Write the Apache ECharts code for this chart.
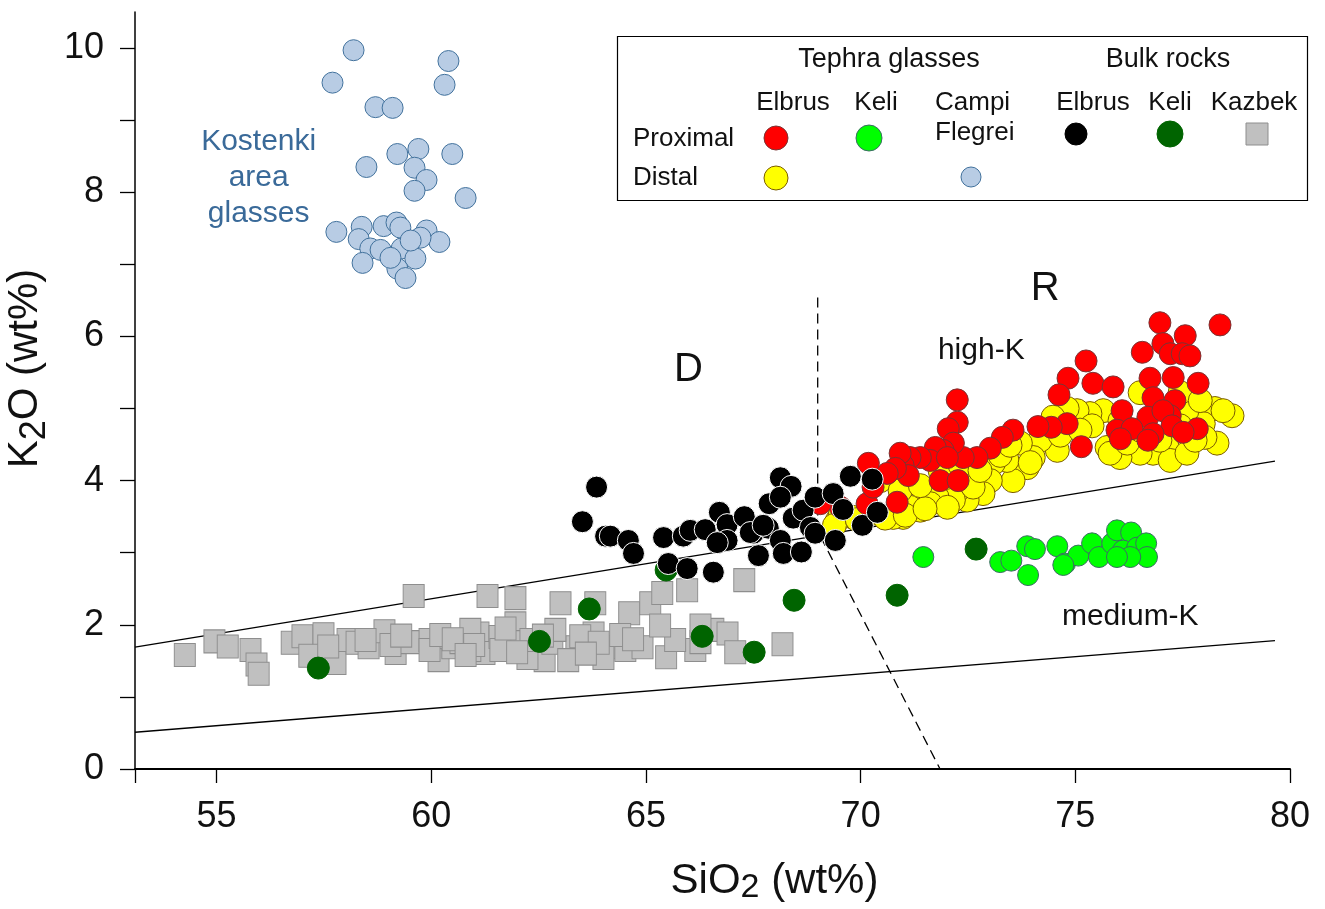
<!doctype html>
<meta charset="utf-8">
<style>
  html, body { margin: 0; padding: 0; width: 100%; height: 100%; background: #fff; }
  #chart { width: 1325px; height: 909px; }
</style>
<script src="https://cdn.jsdelivr.net/npm/echarts@6/dist/echarts.min.js"></script>

<div id="chart"></div>

<script>
  const FONT = '"Liberation Sans", Arial, sans-serif';

  // Campi Flegrei distal glasses (Kostenki area)
  const kostenki = [
    [58.19, 9.97], [57.70, 9.52], [60.40, 9.82], [60.31, 9.49], [58.70, 9.18], [59.10, 9.17],
    [58.49, 8.35], [59.21, 8.53], [59.70, 8.60], [60.49, 8.53], [59.61, 8.34], [59.89, 8.17],
    [59.61, 8.02], [60.80, 7.92], [57.79, 7.45], [58.38, 7.52], [58.31, 7.35], [58.89, 7.53],
    [59.19, 7.58], [59.28, 7.51], [58.58, 7.22], [58.82, 7.20], [58.40, 7.02], [59.31, 7.22],
    [59.63, 7.08], [59.21, 6.94], [59.40, 6.81], [59.89, 7.47], [60.19, 7.31], [59.75, 7.37],
    [59.52, 7.33], [59.05, 7.09]
  ];

  // Kazbek bulk rocks
  const kazbek = [
    [54.26, 1.58], [54.95, 1.77], [55.26, 1.70], [55.79, 1.65], [55.93, 1.45], [55.98, 1.32],
    [56.75, 1.75], [57.00, 1.84], [57.49, 1.87], [57.16, 1.57], [57.77, 1.47], [58.05, 1.79],
    [58.26, 1.75], [58.54, 1.69], [58.91, 1.91], [59.17, 1.61], [59.59, 2.40], [59.52, 1.76],
    [59.96, 1.79], [60.17, 1.51], [60.49, 1.69], [60.68, 1.76], [61.10, 1.88], [61.31, 2.40],
    [61.24, 1.61], [61.59, 1.83], [61.96, 2.37], [61.96, 2.02], [62.05, 1.76], [62.64, 1.51],
    [63.01, 2.30], [62.82, 1.75], [63.38, 1.69], [63.82, 2.30], [63.78, 1.88], [64.15, 1.69],
    [64.52, 1.65], [64.61, 2.16], [65.10, 2.30], [65.38, 2.44], [65.96, 2.48], [66.57, 1.93],
    [66.90, 1.88], [67.08, 1.62], [67.29, 2.62], [68.18, 1.73], [65.47, 1.55], [66.15, 1.65],
    [64.01, 1.54], [64.92, 1.69], [63.19, 1.51], [62.24, 1.54], [60.91, 1.65], [59.96, 1.65],
    [60.21, 1.86], [61.61, 1.65], [62.31, 1.79], [63.47, 1.84], [64.40, 1.86], [65.68, 1.79],
    [66.27, 1.76], [59.05, 1.72], [58.47, 1.79], [60.91, 1.93], [62.89, 1.93], [61.73, 1.95],
    [66.27, 1.99], [65.33, 1.99], [60.50, 1.80], [61.00, 1.72], [62.60, 1.85], [63.90, 1.75],
    [64.70, 1.80], [59.30, 1.85], [57.60, 1.70], [60.80, 1.58], [62.00, 1.62], [63.60, 1.60]
  ];

  // Keli bulk rocks
  const keliBulk = [
    [57.37, 1.40], [62.52, 1.77], [63.68, 2.22], [65.47, 2.76], [66.31, 1.84], [67.52, 1.62],
    [68.45, 2.34], [70.85, 2.41], [72.69, 3.05]
  ];

  // Elbrus distal glasses
  const elbrusDistal = [
    [78.65, 4.90], [78.25, 5.00], [77.98, 4.79], [78.30, 4.52], [78.02, 4.60], [77.60, 4.97],
    [77.44, 5.22], [76.51, 5.22], [77.14, 4.46], [76.81, 4.38], [77.21, 4.28], [77.60, 4.38],
    [76.51, 4.38], [76.04, 4.32], [75.74, 4.46], [75.65, 4.97], [75.34, 4.93], [75.04, 4.97],
    [74.81, 5.00], [75.39, 4.76], [74.48, 4.88], [74.58, 4.42], [74.18, 4.56], [74.02, 4.32],
    [73.72, 4.52], [73.88, 4.18], [73.55, 4.00], [73.41, 4.28], [73.09, 4.24], [73.02, 4.00],
    [72.85, 3.82], [72.48, 3.73], [72.48, 4.00], [72.25, 3.86], [72.62, 3.91], [72.16, 3.73],
    [71.78, 3.77], [71.62, 3.68], [71.39, 3.59], [71.15, 3.63], [70.99, 3.49], [70.76, 3.49],
    [72.02, 3.63], [70.29, 3.55], [69.83, 3.49], [69.46, 3.45], [69.53, 3.55], [75.81, 4.38],
    [76.21, 4.52], [76.97, 4.56], [77.91, 5.11], [78.44, 4.97], [73.95, 4.25], [69.39, 3.38],
    [69.92, 3.46], [70.57, 3.48], [71.04, 3.52], [71.50, 3.61], [70.46, 4.00], [70.92, 3.86],
    [71.39, 3.93], [71.85, 4.14], [72.32, 4.21], [72.78, 4.14], [73.25, 4.35], [73.48, 4.49],
    [74.65, 4.63], [75.11, 4.70], [76.04, 4.83], [76.51, 4.70], [77.44, 4.76], [77.79, 4.56]
  ];

  // Elbrus proximal glasses
  const elbrusProx = [
    [76.97, 6.19], [78.37, 6.16], [77.56, 6.01], [76.56, 5.78], [77.04, 5.90], [77.21, 5.76],
    [77.49, 5.76], [77.67, 5.73], [75.25, 5.66], [74.83, 5.42], [75.41, 5.35], [75.88, 5.30],
    [74.62, 5.19], [76.74, 5.42], [77.28, 5.43], [77.86, 5.35], [76.81, 5.15], [77.32, 5.11],
    [72.25, 5.12], [72.25, 4.81], [72.04, 4.72], [76.09, 4.97], [76.69, 4.88], [77.21, 4.90],
    [77.04, 4.97], [77.25, 4.76], [75.97, 4.70], [76.32, 4.72], [76.81, 4.65], [77.84, 4.72],
    [77.51, 4.67], [76.69, 4.56], [76.05, 4.58], [75.14, 4.47], [74.81, 4.79], [74.44, 4.74],
    [74.13, 4.75], [73.55, 4.70], [73.30, 4.60], [73.02, 4.45], [72.71, 4.32], [72.39, 4.32],
    [72.16, 4.52], [71.92, 4.42], [71.74, 4.46], [71.62, 4.28], [71.39, 4.32], [71.15, 4.32],
    [70.99, 4.21], [70.92, 4.38], [71.11, 4.07], [70.81, 4.17], [70.62, 4.10], [70.18, 4.24],
    [70.85, 3.70], [71.85, 4.00], [72.27, 4.00], [72.02, 4.32], [70.15, 3.68], [69.53, 3.63],
    [70.29, 3.91], [69.06, 3.68]
  ];

  // Elbrus bulk rocks
  const elbrusBulk = [
    [63.85, 3.91], [63.52, 3.43], [64.06, 3.23], [64.17, 3.23], [64.59, 3.17], [64.71, 2.99],
    [65.41, 3.21], [65.87, 3.23], [66.03, 3.31], [66.38, 3.32], [66.71, 3.56], [66.89, 3.39],
    [66.89, 3.17], [66.66, 3.14], [67.29, 3.50], [67.50, 3.27], [67.85, 3.34], [67.87, 3.68],
    [68.13, 4.04], [68.38, 3.92], [68.13, 3.77], [68.43, 3.48], [68.66, 3.59], [68.83, 3.35],
    [68.94, 3.27], [68.13, 3.17], [68.20, 2.99], [68.62, 3.01], [67.62, 2.96], [65.52, 2.85],
    [65.96, 2.78], [66.57, 2.73], [68.94, 3.77], [69.36, 3.82], [69.76, 4.06], [70.27, 4.02],
    [69.59, 3.60], [70.04, 3.38], [70.39, 3.56], [69.41, 3.17], [67.43, 3.28], [67.73, 3.38]
  ];

  // Keli proximal glasses
  const keliGlass = [
    [71.46, 2.94], [73.25, 2.87], [73.51, 2.89], [73.88, 3.09], [74.06, 3.05], [73.90, 2.69],
    [74.58, 3.09], [74.76, 2.85], [75.07, 2.96], [75.39, 3.13], [75.55, 2.94], [75.86, 3.13],
    [75.97, 3.31], [76.30, 3.28], [76.11, 3.03], [76.44, 3.07], [76.65, 3.13], [76.67, 2.94],
    [76.28, 2.94], [75.97, 2.94], [74.72, 2.83]
  ];

  // classification lines
  const highKLine = [[53.1, 1.69], [79.65, 4.27]];
  const mediumKLine = [[53.1, 0.51], [79.65, 1.78]];
  const drLine = [[69, 6.54], [69, 3.3], [71.85, 0]];

  // field labels: [x, y, text]
  const fieldNotes = [[65.99, 5.53, 'D'], [74.30, 6.66, 'R']];
  const seriesNotes = [[72.81, 5.80, 'high-K'], [76.28, 2.11, 'medium-K']];
  const kostenkiNote = [[55.98, 8.20, 'Kostenki\narea\nglasses']];

  const xLabels = [55, 60, 65, 70, 75, 80];
  const xTicks = [53.1, 55, 60, 65, 70, 75, 80];
  const yLabels = [0, 2, 4, 6, 8, 10];
  const yTicks = [0, 1, 2, 3, 4, 5, 6, 7, 8, 9, 10];

  function dots(data, size, color, border, z, symbol) {
    return {
      type: 'scatter', data: data, z: z, symbol: symbol || 'circle', symbolSize: size,
      itemStyle: { color: color, borderColor: border, borderWidth: 1, opacity: 1 },
      silent: true
    };
  }
  function line(data, dashed) {
    return {
      type: 'line', data: data, z: 1, symbol: 'none', silent: true,
      lineStyle: { color: '#000', width: 1.3, type: dashed ? [10, 6] : 'solid' }
    };
  }
  function notes(data, size, color, lh) {
    return {
      type: 'scatter', data: data, z: 10, symbolSize: 0, silent: true,
      itemStyle: { opacity: 1 },
      label: {
        show: true, position: 'inside', formatter: p => p.value[2],
        fontFamily: FONT, fontSize: size, color: color, lineHeight: lh || size, align: 'center'
      }
    };
  }

  let chart = echarts.init(document.getElementById('chart'));

  const lg = (text, x, y, align, size) => ({
    type: 'text', x: x, y: y, z: 100,
    style: { text: text, fontFamily: FONT, fontSize: size || 26, fill: '#111',
             align: align || 'center', verticalAlign: 'middle' }
  });
  const lgDot = (x, y, r, fill, stroke) => ({
    type: 'circle', z: 100, shape: { cx: x, cy: y, r: r },
    style: { fill: fill, stroke: stroke || fill, lineWidth: 1 }
  });

  chart.setOption({
    animation: false,
    grid: { left: 135, right: 35, top: 12, bottom: 140, containLabel: false, outerBoundsMode: 'none' },
    xAxis: {
      type: 'value', min: 53.1, max: 80,
      name: 'SiO{s|2} (wt%)', nameLocation: 'middle', nameGap: 88,
      nameTextStyle: {
        fontFamily: FONT, fontSize: 42, color: '#111', padding: [0, 0, 0, 124],
        rich: { s: { fontFamily: FONT, fontSize: 34, color: '#111', padding: [14, 0, 0, 0] } }
      },
      axisLine: { lineStyle: { color: '#000', width: 2 } },
      axisTick: { length: 14, lineStyle: { color: '#000', width: 1.3 }, customValues: xTicks },
      axisLabel: { fontFamily: FONT, fontSize: 36, color: '#111', margin: 30, customValues: xLabels },
      splitLine: { show: false }
    },
    yAxis: {
      type: 'value', min: 0, max: 10.5,
      name: 'K{s|2}O (wt%)', nameLocation: 'middle', nameGap: 78,
      nameTextStyle: {
        fontFamily: FONT, fontSize: 42, color: '#111', padding: [0, 0, 0, 44],
        rich: { s: { fontFamily: FONT, fontSize: 36, color: '#111', padding: [20, 0, 0, 0] } }
      },
      axisLine: { lineStyle: { color: '#000', width: 1.5 } },
      axisTick: { length: 15, lineStyle: { color: '#000', width: 1.3 }, customValues: yTicks },
      axisLabel: { fontFamily: FONT, fontSize: 36, color: '#111', margin: 31, customValues: yLabels },
      splitLine: { show: false }
    },
    series: [
      line(highKLine), line(mediumKLine), line(drLine, true),
      dots(kazbek, [21, 23], '#c0c0c0', '#8e8e8e', 2, 'rect'),
      dots(keliBulk, 22, '#006400', '#006400', 3),
      dots(elbrusDistal, 24, '#ffff00', '#7a5c00', 4),
      dots(elbrusProx, 22, '#ff0000', '#7a3434', 5),
      dots(elbrusBulk, 22, '#000000', '#ffffff', 6),
      dots(keliGlass, 21, '#00ff00', '#3a6e62', 4),
      dots(kostenki, 21, '#b8cce4', '#41719c', 4),
      notes(fieldNotes, 40, '#111'),
      notes(seriesNotes, 30, '#111'),
      notes(kostenkiNote, 30, '#3a6a99', 36)
    ],
    graphic: [
      { type: 'rect', z: 99, shape: { x: 617.5, y: 36.5, width: 690, height: 164 },
        style: { fill: '#fff', stroke: '#000', lineWidth: 1.2 } },
      lg('Tephra glasses', 889, 60, 'center', 27),
      lg('Bulk rocks', 1168, 60, 'center', 27),
      lg('Elbrus', 793, 103), lg('Keli', 876, 103),
      lg('Campi', 935, 103, 'left'), lg('Flegrei', 935, 133, 'left'),
      lg('Elbrus', 1093, 103), lg('Keli', 1170, 103), lg('Kazbek', 1254, 103),
      lg('Proximal', 633, 139, 'left'), lg('Distal', 633, 178, 'left'),
      lgDot(776, 138, 12, '#ff0000', '#7a3434'),
      lgDot(869, 138, 13, '#00ff00', '#3a6e62'),
      lgDot(1076, 134, 11, '#000000'),
      lgDot(1170, 134, 13, '#006400'),
      { type: 'rect', z: 100, shape: { x: 1246, y: 123, width: 22, height: 22 },
        style: { fill: '#c0c0c0', stroke: '#8e8e8e', lineWidth: 1 } },
      lgDot(776, 178, 12, '#ffff00', '#7a5c00'),
      lgDot(971, 177, 10, '#b8cce4', '#41719c')
    ]
  });
</script>
